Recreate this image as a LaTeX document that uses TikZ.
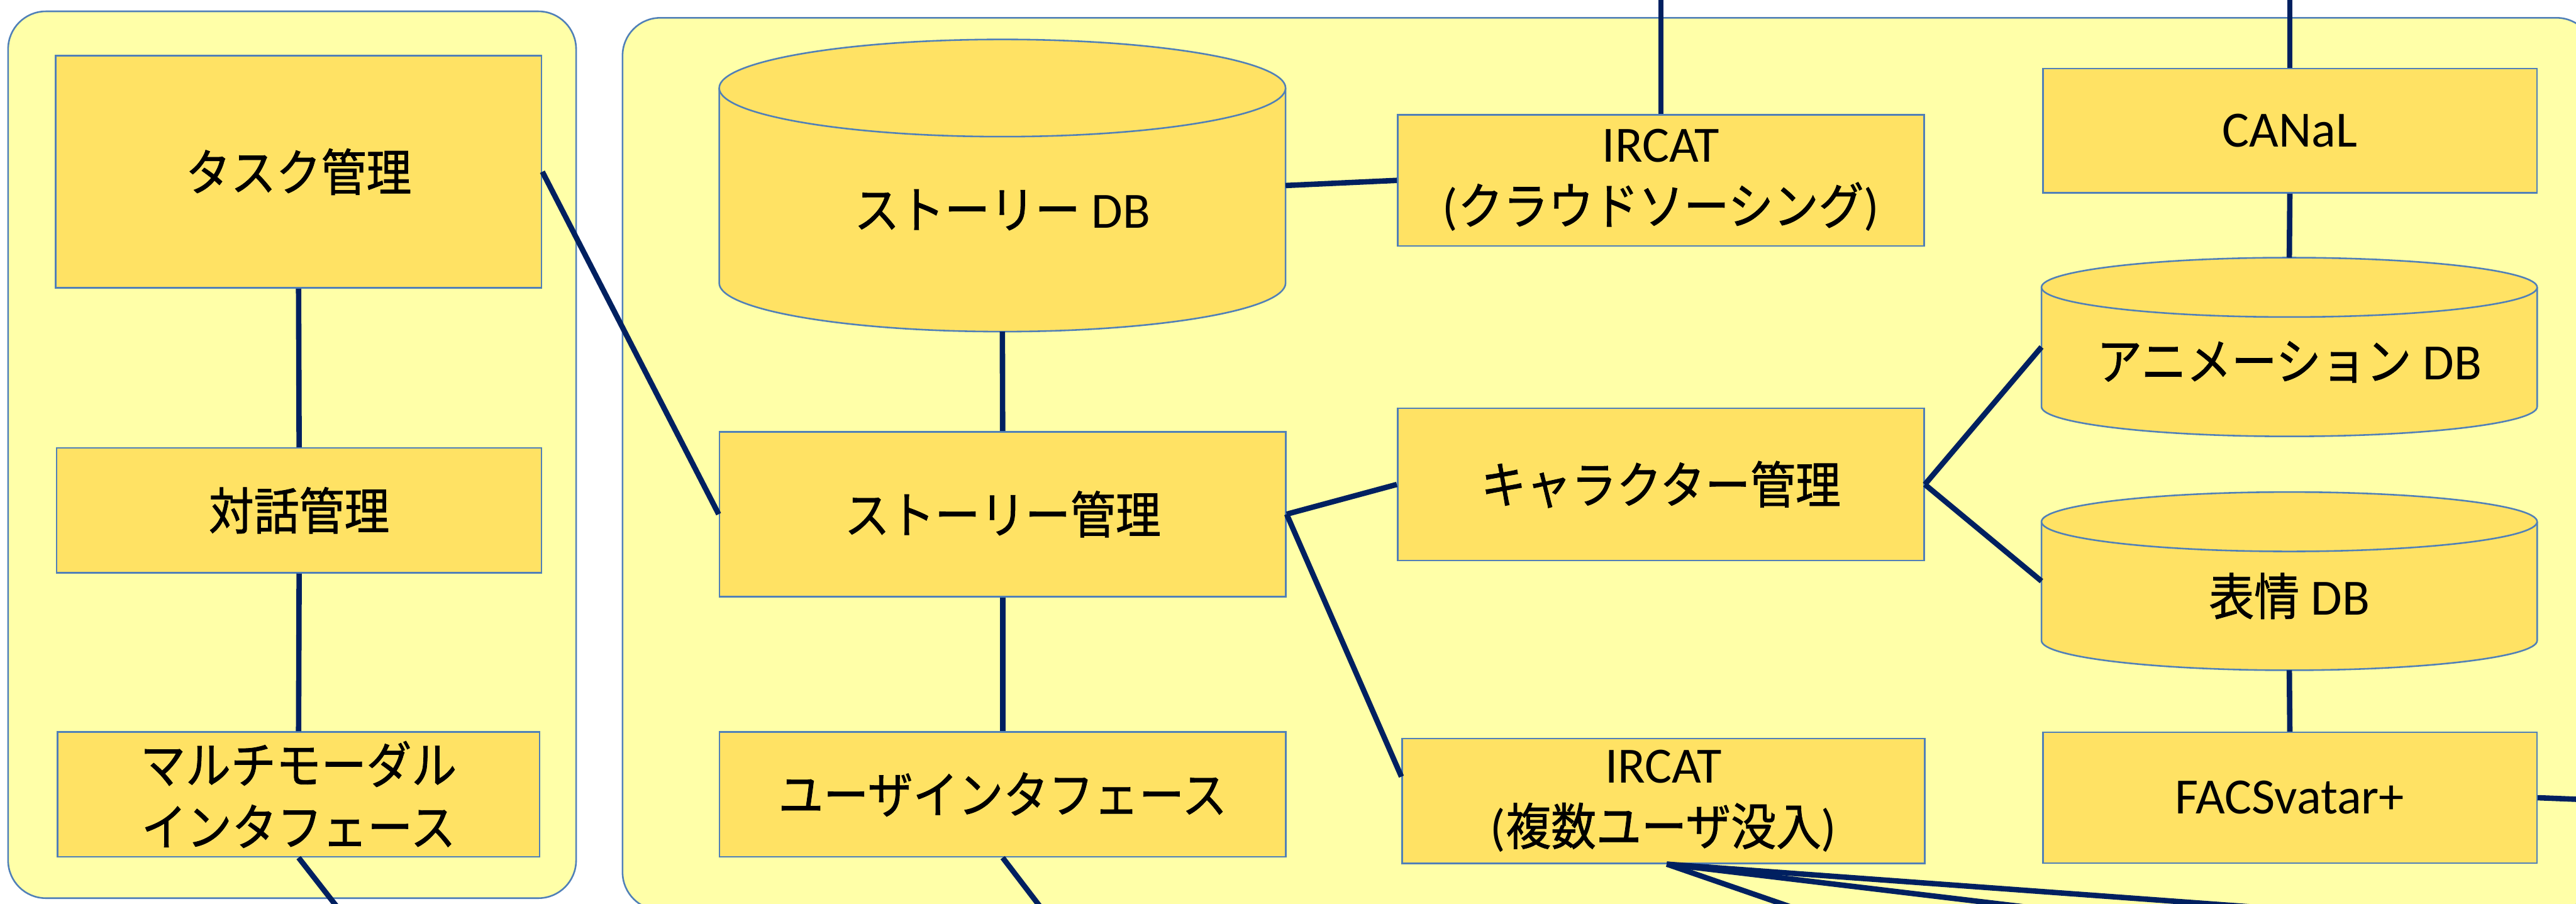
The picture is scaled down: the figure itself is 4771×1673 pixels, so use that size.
\documentclass[tikz,border=0pt]{standalone}
\usepackage{fontspec}
\setmainfont{Carlito}
\newfontfamily\jpfont[FakeStretch=0.9,FakeBold=1]{Noto Sans CJK JP}
\newcommand\jp[1]{{\jpfont\fontsize{93pt}{115pt}\selectfont #1}}

\definecolor{panel}{HTML}{FFFFA8}
\definecolor{boxfill}{HTML}{FFE264}
\definecolor{edge}{HTML}{5080B8}
\definecolor{wire}{HTML}{002060}

\tikzset{
  panelbox/.style={draw=edge, fill=panel, line width=3pt, rounded corners=70pt},
  block/.style={draw=edge, fill=boxfill, line width=3pt, inner sep=0pt, align=center,
    font=\fontsize{94pt}{115pt}\selectfont},
  dbline/.style={draw=edge, line width=3pt},
  hitbox/.style={inner sep=0pt, outer sep=0pt},
  dblabel/.style={inner sep=0pt, align=center, font=\fontsize{94pt}{115pt}\selectfont},
  link/.style={draw=wire, line width=10pt},
}

% database cylinder: name, x1, y1, x2, y2, ellipse half-height, label
\newcommand\dbcyl[7]{%
  \pgfmathsetmacro\dbcx{(#2+#4)/2}%
  \pgfmathsetmacro\dbrx{(#4-#2)/2}%
  \pgfmathsetmacro\dbw{#4-#2}%
  \pgfmathsetmacro\dbh{#5-#3}%
  \pgfmathsetmacro\dbtop{#3+#6}%
  \pgfmathsetmacro\dbbot{#5-#6}%
  \pgfmathsetmacro\dbcy{(#3+#5)/2}%
  \pgfmathsetmacro\dbty{(#3+#5+#6)/2}%
  \fill[boxfill] (#2,\dbtop) rectangle (#4,\dbbot);
  \fill[boxfill] (\dbcx,\dbbot) ellipse[x radius=\dbrx pt, y radius=#6 pt];
  \draw[dbline] (#2,\dbtop) -- (#2,\dbbot)
    arc[start angle=180, end angle=360, x radius=\dbrx pt, y radius=#6 pt] -- (#4,\dbtop);
  \draw[dbline, fill=boxfill] (\dbcx,\dbtop) ellipse[x radius=\dbrx pt, y radius=#6 pt];
  \node[hitbox, minimum width=\dbw pt, minimum height=\dbh pt] (#1) at (\dbcx,\dbcy) {};
  \node[dblabel] (#1-label) at (\dbcx,\dbty) {#7};
}

\begin{document}
\begin{tikzpicture}[x=1pt,y=-1pt]
\useasboundingbox (0,0) rectangle (4771,1673);
\clip (0,0) rectangle (4771,1673);
\fill[white] (0,0) rectangle (4771,1673);

% panels
\path[panelbox] (15,21) rectangle (1067,1663);
\path[panelbox] (1153,33) rectangle (4805,1685);

% left panel
\node[block, minimum width=900pt, minimum height=430pt] (task) at (553,318) {\jp{タスク管理}};
\node[block, minimum width=898pt, minimum height=231pt] (dialog) at (554,945) {\jp{対話管理}};
\node[block, minimum width=893pt, minimum height=231pt] (mmi) at (553,1471)
  {\jp{マルチモーダル}\\\jp{インタフェース}};

% story column
\dbcyl{storydb}{1332}{73}{2381}{614}{90}{\jp{ストーリー} DB}
\node[block, minimum width=1049pt, minimum height=305pt] (story) at (1857,952) {\jp{ストーリー管理}};
\node[block, minimum width=1049pt, minimum height=231pt] (ui) at (1857,1471) {\jp{ユーザインタフェース}};

% middle column
\node[block, minimum width=975pt, minimum height=243pt] (ircatA) at (3076,334)
  {IRCAT\\(\jp{クラウドソーシング})};
\node[block, minimum width=975pt, minimum height=282pt] (chara) at (3076,897) {\jp{キャラクター管理}};
\node[block, minimum width=968pt, minimum height=231pt] (ircatB) at (3081,1483)
  {IRCAT\\(\jp{複数ユーザ没入})};

% right column
\node[block, minimum width=915pt, minimum height=230pt] (canal) at (4241,242) {CANaL};
\dbcyl{animdb}{3781}{477}{4699}{808}{55}{\jp{アニメーション} DB}
\dbcyl{facedb}{3781}{911}{4699}{1241}{55}{\jp{表情} DB}
\node[block, minimum width=915pt, minimum height=242pt] (facs) at (4241,1477) {FACSvatar+};

% free ends leaving the picture
\coordinate (mmiout) at (653,1716);
\coordinate (uiout) at (1955,1716);
\coordinate (ircatAtop) at (3076,-30);
\coordinate (canaltop) at (4241,-30);
\coordinate (facsout) at (4800,1481);
\coordinate (fanA) at (3406,1710);
\coordinate (fanB) at (4008,1710);
\coordinate (fanC) at (4620,1712);

% connectors
\draw[link] (task.south) -- (dialog.north);
\draw[link] (dialog.south) -- (mmi.north);
\draw[link] (mmi.south) -- (mmiout);
\draw[link] (task.east) -- (story.west);
\draw[link] (storydb.south) -- (story.north);
\draw[link] (story.south) -- (ui.north);
\draw[link] (ui.south) -- (uiout);
\draw[link] (storydb.east) -- (ircatA.west);
\draw[link] (ircatA.north) -- (ircatAtop);
\draw[link] (story.east) -- (chara.west);
\draw[link] (story.east) -- ([yshift=45pt]ircatB.west);
\draw[link] (chara.east) -- (animdb.west);
\draw[link] (chara.east) -- (facedb.west);
\draw[link] (canal.north) -- (canaltop);
\draw[link] (canal.south) -- (animdb.north);
\draw[link] (facedb.south) -- (facs.north);
\draw[link] (facs.east) -- (facsout);
\draw[link] ([xshift=6pt]ircatB.south) -- (fanA);
\draw[link] ([xshift=6pt]ircatB.south) -- (fanB);
\draw[link] ([xshift=6pt]ircatB.south) -- (fanC);
\end{tikzpicture}
\end{document}
